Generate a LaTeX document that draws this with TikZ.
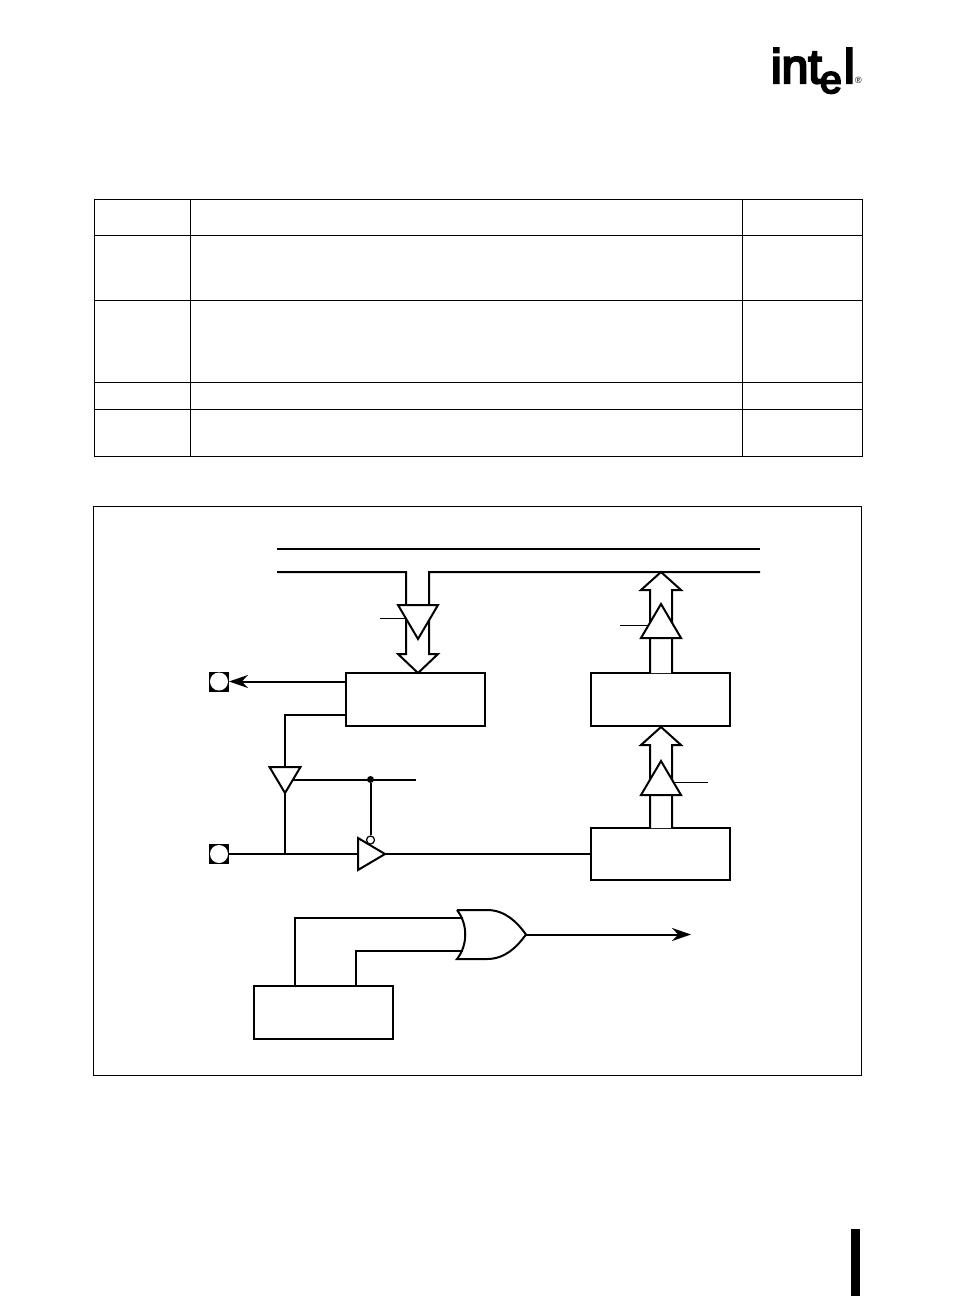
\documentclass[tikz,border=0pt]{standalone}
\usepackage{fontspec}
\setmainfont{Liberation Sans}
\newfontfamily\logofont[FakeBold=5]{Liberation Sans}
\usetikzlibrary{arrows.meta,shapes.geometric}

\begin{document}
\begin{tikzpicture}[x=1pt, y=-1pt, >={Stealth[length=19pt,width=13pt]}, node distance=245pt,
  wire/.style={line width=2pt, line join=miter},
  thinwire/.style={line width=1pt},
  rule/.style={line width=1pt},
  block/.style={rectangle, draw, line width=2pt, minimum width=139pt, minimum height=53pt, inner sep=0pt, outer sep=0pt},
  pin/.style={rectangle, fill=black, minimum size=20pt, inner sep=0pt, outer sep=0pt,
    path picture={\fill[white] (path picture bounding box.center) circle (9pt);}},
  buffer/.style={isosceles triangle, isosceles triangle stretches, draw, fill=white, line width=2pt, inner sep=0pt, outer sep=0pt, anchor=apex},
  wide/.style={buffer, minimum width=40pt, minimum height=34pt},
  small/.style={buffer, minimum width=31pt, minimum height=26pt},
  logo/.style={inner sep=0pt, outer sep=0pt, anchor=base west, font=\logofont\fontsize{48}{48}\selectfont}]

  \useasboundingbox (0,0) rectangle (954,1296);

  % logo and page mark
  \node[logo] (int) at (771,83) {int};
  \node[logo, font=\logofont\fontsize{39}{39}\selectfont] (e) at (820,93) {e};
  \node[logo] (l) at (844,83) {l};
  \node[inner sep=0pt, font=\fontsize{9}{9}\selectfont] (reg) at (858.5,80.5) {®};
  \fill (851,1229) rectangle (860,1296);

  % table
  \draw[rule] (94,199) rectangle (862,456.5);
  \foreach \col in {190,742.5}
    \draw[rule] (\col,199) -- (\col,456.5);
  \foreach \row in {235,300,382,409}
    \draw[rule] (94,\row) -- (862,\row);

  % figure frame
  \draw[rule] (93.5,506.5) rectangle (861.5,1075.5);

  \node[block] (latch) at (415.5,699.5) {};
  \node[block, right of=latch] (sfr) {};
  \node[block, below of=sfr, node distance=154.5pt, minimum height=52pt] (driver) {};
  \node[block] (ctrl) at (323.5,1012.5) {};
  \node[pin] (padA) at (219,681.5) {};
  \node[pin] (padB) at (219,854) {};

  % bus lines
  \coordinate (busA) at (277,549);
  \coordinate (busAend) at (760,549);
  \coordinate (busB) at (277,572);
  \coordinate (busBend) at (760,572);
  \draw[line width=2.6pt] (busA) -- (busAend);
  \draw[wire] (busB) -- (406,572) -- (406,654) -- (398,654) -- (latch.north -| 418,0) -- (438,654) -- (429,654) -- (429,572) -- (busBend);

  % up arrows
  \draw[wire, fill=white] (sfr.north -| 650,0) -- (650,590) -- (641,590) -- (661,572) -- (681,590) -- (672,590) -- (sfr.north -| 672,0);
  \draw[wire, fill=white] (driver.north -| 650,0) -- (650,745) -- (641,745) -- (661,727) -- (681,745) -- (672,745) -- (driver.north -| 672,0);

  % enable lines
  \coordinate (enA) at (380,618);
  \coordinate (enB) at (620,625);
  \coordinate (enC) at (708,782);
  \coordinate (enD) at (416,779.5);
  \coordinate (tipD) at (285,793);
  \draw[thinwire] (enA) -- (418,618);
  \draw[thinwire] (enB) -- (661,625);
  \draw[thinwire] (enC) -- (661,782);
  \draw[wire] (enD) -- (enD -| tipD);

  \node[wide, shape border rotate=270] (triA) at (418,639) {};
  \node[wide, shape border rotate=90] (triB) at (661,604) {};
  \node[wide, shape border rotate=90] (triC) at (661,761) {};
  \node[small, shape border rotate=270] (triD) at (tipD) {};
  \node[small, minimum width=32pt, minimum height=27pt] (triE) at (385,854) {};

  % port logic
  \coordinate (tapA) at (346,715);
  \node[circle, fill=black, minimum size=7pt, inner sep=0pt] (dot) at (370.5,779.5) {};
  \node[circle, draw, fill=white, line width=1.2pt, minimum size=8pt, inner sep=0pt] (inv) at (370.5,840) {};
  \draw[wire, ->] (latch.west |- padA) -- (padA);
  \draw[wire] (tapA) -| (triD.lower side);
  \draw[wire] (triD.apex) -- (triD.apex |- padB);
  \draw[wire] (padB) -- (triE.lower side);
  \draw[wire] (triE.apex) -- (driver.west);
  \draw[wire] (dot) -- (inv);

  % or gate
  \coordinate (orA) at (463,918);
  \coordinate (orB) at (463,951);
  \coordinate (orOut) at (526,934.5);
  \coordinate (sink) at (691,934.5);
  \draw[line width=2pt, fill=white] (457,910) -- (487,910) .. controls (505,910) and (517,922) .. (orOut)
    .. controls (517,947) and (505,959) .. (487,959) -- (457,959) .. controls (468,945) and (468,924) .. (457,910);
  \draw[line width=2.4pt] (orA) -| (ctrl.north -| 295,0);
  \draw[wire] (orB) -| (ctrl.north -| 356,0);
  \draw[wire, ->] (orOut) -- (sink);

\end{tikzpicture}
\end{document}
